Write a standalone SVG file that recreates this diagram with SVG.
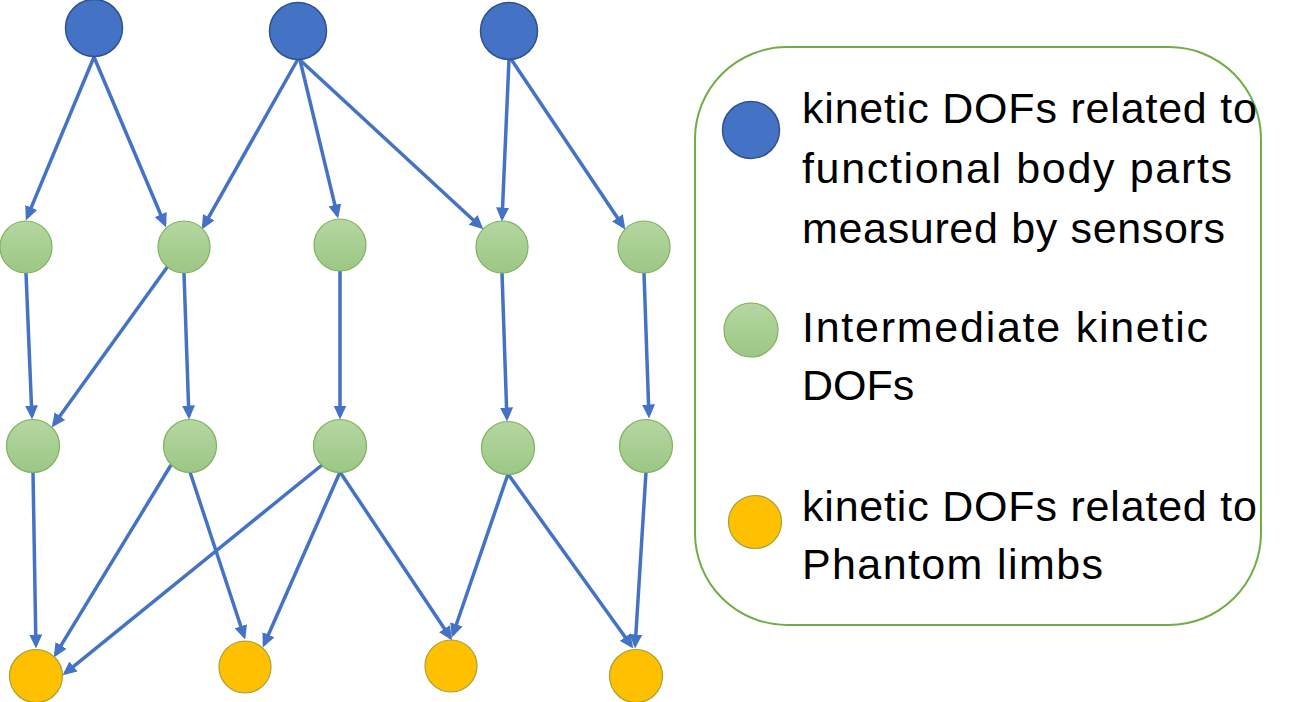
<svg xmlns="http://www.w3.org/2000/svg" width="1303" height="702" viewBox="0 0 1303 702">
<defs>
<linearGradient id="gg" x1="0" y1="0" x2="0" y2="1">
<stop offset="0" stop-color="#B5D7A1"/>
<stop offset="1" stop-color="#9CC785"/>
</linearGradient>
<marker id="ah" viewBox="0 0 14 13" refX="10.5" refY="6.5" markerWidth="14" markerHeight="13" markerUnits="userSpaceOnUse" orient="auto">
<path d="M0,0 L14,6.5 L0,13 z" fill="#4472C4"/>
</marker>
<style>
.blue{fill:#4472C4;stroke:#2F528F;stroke-width:1.5}
.green{fill:url(#gg);stroke:#7DB35A;stroke-width:1.2}
.orange{fill:#FFC000;stroke:#A8A032;stroke-width:1.2}
.edge{stroke:#4472C4;stroke-width:3.5;fill:none;marker-end:url(#ah)}
.lbl{font-family:"Liberation Sans",Arial,sans-serif;font-size:43px;fill:#000}
</style>
</defs>
<rect width="1303" height="702" fill="#fff"/>
<g id="connectors">
<line class="edge" x1="94" y1="57" x2="27.2" y2="217.2"/>
<line class="edge" x1="94" y1="57" x2="164.8" y2="224.2"/>
<line class="edge" x1="298" y1="59" x2="203.5" y2="226.4"/>
<line class="edge" x1="300" y1="60" x2="337.3" y2="215.1"/>
<line class="edge" x1="300" y1="60" x2="480.8" y2="227"/>
<line class="edge" x1="509" y1="59" x2="502.1" y2="218"/>
<line class="edge" x1="511" y1="59" x2="623.3" y2="226.5"/>
<line class="edge" x1="26" y1="273" x2="31.9" y2="416"/>
<line class="edge" x1="168" y1="266" x2="53.8" y2="424.6"/>
<line class="edge" x1="184" y1="273" x2="188.9" y2="416"/>
<line class="edge" x1="340" y1="271" x2="340" y2="416"/>
<line class="edge" x1="502" y1="273" x2="506.9" y2="418"/>
<line class="edge" x1="644" y1="273" x2="648.9" y2="415"/>
<line class="edge" x1="33" y1="472" x2="35.9" y2="645"/>
<line class="edge" x1="171" y1="465" x2="55.6" y2="654.4"/>
<line class="edge" x1="190" y1="472" x2="244.1" y2="636.2"/>
<line class="edge" x1="322" y1="465" x2="65.3" y2="673.1"/>
<line class="edge" x1="340" y1="472" x2="264.2" y2="644.3"/>
<line class="edge" x1="340" y1="472" x2="450.3" y2="637.5"/>
<line class="edge" x1="508" y1="474" x2="453" y2="634.2"/>
<line class="edge" x1="508" y1="474" x2="631.2" y2="645.6"/>
<line class="edge" x1="646" y1="472" x2="635.2" y2="645"/>
</g>
<g id="s1"><circle class="blue" cx="94" cy="28" r="28.5"/></g>
<g id="s2"><circle class="blue" cx="298" cy="31" r="28.5"/></g>
<g id="s3"><circle class="blue" cx="509" cy="31" r="28.5"/></g>
<g id="m1"><circle class="green" cx="26" cy="247" r="26"/></g>
<g id="m2"><circle class="green" cx="184" cy="247" r="26"/></g>
<g id="m3"><circle class="green" cx="340" cy="245" r="26"/></g>
<g id="m4"><circle class="green" cx="502" cy="247" r="26"/></g>
<g id="m5"><circle class="green" cx="644" cy="247" r="26"/></g>
<g id="n1"><circle class="green" cx="33" cy="446" r="26.5"/></g>
<g id="n2"><circle class="green" cx="190" cy="446" r="26.5"/></g>
<g id="n3"><circle class="green" cx="340" cy="446" r="26.5"/></g>
<g id="n4"><circle class="green" cx="508" cy="448" r="26.5"/></g>
<g id="n5"><circle class="green" cx="646" cy="446" r="26.5"/></g>
<g id="p1"><circle class="orange" cx="36" cy="676" r="26.5"/></g>
<g id="p2"><circle class="orange" cx="245" cy="667" r="26"/></g>
<g id="p3"><circle class="orange" cx="451" cy="666" r="26"/></g>
<g id="p4"><circle class="orange" cx="636" cy="676" r="26.5"/></g>
<g id="legend">
<rect x="695" y="47" width="566" height="578" rx="92" ry="92" fill="#fff" stroke="#70AD47" stroke-width="2"/>
<circle class="blue" cx="751" cy="130" r="28.5"/>
<circle class="green" cx="751" cy="330" r="27"/>
<circle class="orange" cx="755" cy="522" r="26.5"/>
<text class="lbl" x="802" y="123" textLength="455">kinetic DOFs related to</text>
<text class="lbl" x="802" y="183" textLength="430">functional body parts</text>
<text class="lbl" x="802" y="243" textLength="423">measured by sensors</text>
<text class="lbl" x="802" y="342" textLength="406">Intermediate kinetic</text>
<text class="lbl" x="802" y="400">DOFs</text>
<text class="lbl" x="802" y="521" textLength="455">kinetic DOFs related to</text>
<text class="lbl" x="802" y="579" textLength="301">Phantom limbs</text>
</g>
</svg>
